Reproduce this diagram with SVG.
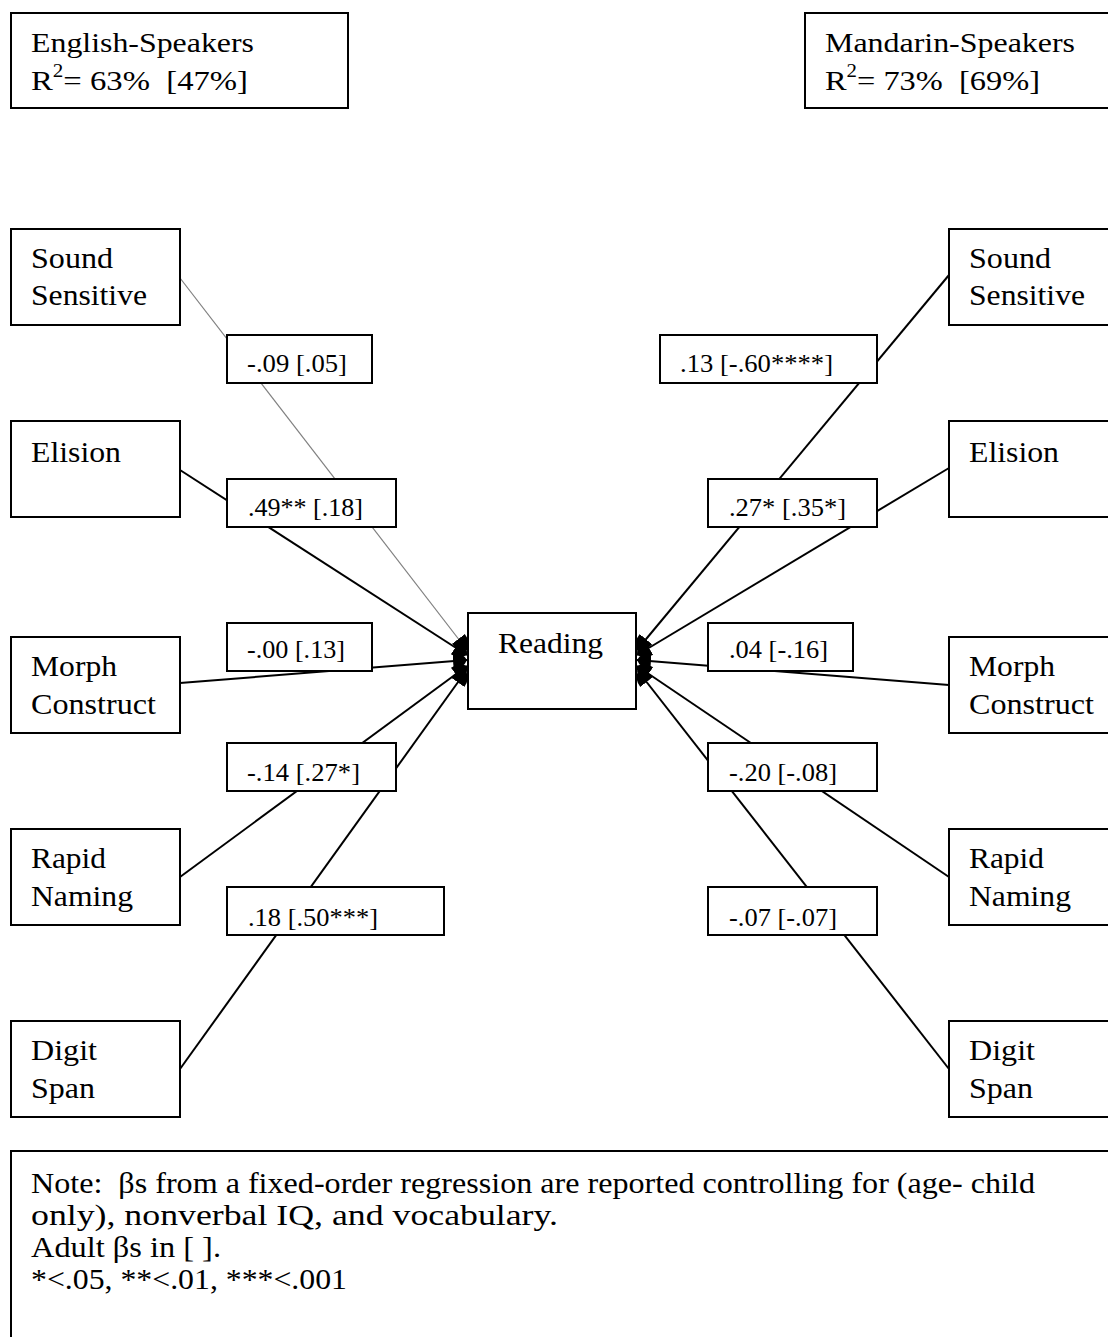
<svg xmlns="http://www.w3.org/2000/svg" width="1108" height="1337" viewBox="0 0 1108 1337">
<style>
.box{fill:#fff;stroke:#000;stroke-width:2}
.t{font-family:"Liberation Serif","Times New Roman",serif;font-size:28px;fill:#000}
.note{font-family:"Liberation Serif","Times New Roman",serif;font-size:30px;fill:#000}
.lt{font-family:"Liberation Serif","Times New Roman",serif;font-size:25px;fill:#000}
.nt{font-family:"Liberation Serif","Times New Roman",serif;font-size:29px;fill:#000}
.c{stroke:#000;stroke-width:2;fill:none}
.cg{stroke:#808080;stroke-width:1.2;fill:none}
</style>
<defs>
<marker id="ah" markerUnits="userSpaceOnUse" markerWidth="16" markerHeight="22" refX="14" refY="11" orient="auto">
<path d="M0,3 Q10,3 14,11 Q10,19 0,19 Z" fill="#000"/>
</marker>
</defs>
<rect width="1108" height="1337" fill="#fff"/>

<g id="connectors">
<line class="cg" x1="180" y1="278" x2="467" y2="650" marker-end="url(#ah)"/>
<line class="c" x1="180" y1="470" x2="467" y2="655" marker-end="url(#ah)"/>
<line class="c" x1="180" y1="683" x2="467" y2="660" marker-end="url(#ah)"/>
<line class="c" x1="180" y1="877" x2="467" y2="666" marker-end="url(#ah)"/>
<line class="c" x1="180" y1="1069" x2="466" y2="671" marker-end="url(#ah)"/>
<line class="c" x1="949" y1="275" x2="637" y2="650" marker-end="url(#ah)"/>
<line class="c" x1="949" y1="468" x2="637" y2="655" marker-end="url(#ah)"/>
<line class="c" x1="949" y1="685" x2="637" y2="660" marker-end="url(#ah)"/>
<line class="c" x1="949" y1="877" x2="637" y2="666" marker-end="url(#ah)"/>
<line class="c" x1="949" y1="1069" x2="638" y2="671" marker-end="url(#ah)"/>
</g>

<g id="title-english">
<rect class="box" x="11" y="13" width="337" height="95"/>
<text class="t" x="31" y="52" textLength="223" lengthAdjust="spacingAndGlyphs">English-Speakers</text>
<text class="t" x="31" y="90" xml:space="preserve" textLength="217" lengthAdjust="spacingAndGlyphs">R<tspan font-size="18" dy="-13">2</tspan><tspan dy="13">= 63%  [47%]</tspan></text>
</g>
<g id="title-mandarin">
<rect class="box" x="805" y="13" width="320" height="95"/>
<text class="t" x="825" y="52" textLength="250" lengthAdjust="spacingAndGlyphs">Mandarin-Speakers</text>
<text class="t" x="825" y="90" xml:space="preserve" textLength="215" lengthAdjust="spacingAndGlyphs">R<tspan font-size="18" dy="-13">2</tspan><tspan dy="13">= 73%  [69%]</tspan></text>
</g>

<g id="reading">
<rect class="box" x="468" y="613" width="168" height="96"/>
<text class="nt" x="498" y="653" textLength="105" lengthAdjust="spacingAndGlyphs">Reading</text>
</g>

<g id="en-sound">
<rect class="box" x="11" y="229" width="169" height="96"/>
<text class="nt" x="31" y="268" textLength="82" lengthAdjust="spacingAndGlyphs">Sound</text>
<text class="nt" x="31" y="305" textLength="116" lengthAdjust="spacingAndGlyphs">Sensitive</text>
</g>
<g id="en-elision">
<rect class="box" x="11" y="421" width="169" height="96"/>
<text class="nt" x="31" y="462" textLength="90" lengthAdjust="spacingAndGlyphs">Elision</text>
</g>
<g id="en-morph">
<rect class="box" x="11" y="637" width="169" height="96"/>
<text class="nt" x="31" y="676" textLength="86" lengthAdjust="spacingAndGlyphs">Morph</text>
<text class="nt" x="31" y="714" textLength="125" lengthAdjust="spacingAndGlyphs">Construct</text>
</g>
<g id="en-rapid">
<rect class="box" x="11" y="829" width="169" height="96"/>
<text class="nt" x="31" y="868" textLength="75" lengthAdjust="spacingAndGlyphs">Rapid</text>
<text class="nt" x="31" y="906" textLength="102" lengthAdjust="spacingAndGlyphs">Naming</text>
</g>
<g id="en-digit">
<rect class="box" x="11" y="1021" width="169" height="96"/>
<text class="nt" x="31" y="1060" textLength="66" lengthAdjust="spacingAndGlyphs">Digit</text>
<text class="nt" x="31" y="1098" textLength="64" lengthAdjust="spacingAndGlyphs">Span</text>
</g>

<g id="md-sound">
<rect class="box" x="949" y="229" width="180" height="96"/>
<text class="nt" x="969" y="268" textLength="82" lengthAdjust="spacingAndGlyphs">Sound</text>
<text class="nt" x="969" y="305" textLength="116" lengthAdjust="spacingAndGlyphs">Sensitive</text>
</g>
<g id="md-elision">
<rect class="box" x="949" y="421" width="180" height="96"/>
<text class="nt" x="969" y="462" textLength="90" lengthAdjust="spacingAndGlyphs">Elision</text>
</g>
<g id="md-morph">
<rect class="box" x="949" y="637" width="180" height="96"/>
<text class="nt" x="969" y="676" textLength="86" lengthAdjust="spacingAndGlyphs">Morph</text>
<text class="nt" x="969" y="714" textLength="125" lengthAdjust="spacingAndGlyphs">Construct</text>
</g>
<g id="md-rapid">
<rect class="box" x="949" y="829" width="180" height="96"/>
<text class="nt" x="969" y="868" textLength="75" lengthAdjust="spacingAndGlyphs">Rapid</text>
<text class="nt" x="969" y="906" textLength="102" lengthAdjust="spacingAndGlyphs">Naming</text>
</g>
<g id="md-digit">
<rect class="box" x="949" y="1021" width="180" height="96"/>
<text class="nt" x="969" y="1060" textLength="66" lengthAdjust="spacingAndGlyphs">Digit</text>
<text class="nt" x="969" y="1098" textLength="64" lengthAdjust="spacingAndGlyphs">Span</text>
</g>

<g id="label-en-sound">
<rect class="box" x="227" y="335" width="145" height="48"/>
<text class="lt" x="247" y="372" textLength="100" lengthAdjust="spacingAndGlyphs">-.09 [.05]</text>
</g>
<g id="label-en-elision">
<rect class="box" x="227" y="479" width="169" height="48"/>
<text class="lt" x="248" y="516" textLength="115" lengthAdjust="spacingAndGlyphs">.49** [.18]</text>
</g>
<g id="label-en-morph">
<rect class="box" x="227" y="623" width="145" height="48"/>
<text class="lt" x="247" y="658" textLength="98" lengthAdjust="spacingAndGlyphs">-.00 [.13]</text>
</g>
<g id="label-en-rapid">
<rect class="box" x="227" y="743" width="169" height="48"/>
<text class="lt" x="247" y="781" textLength="113" lengthAdjust="spacingAndGlyphs">-.14 [.27*]</text>
</g>
<g id="label-en-digit">
<rect class="box" x="227" y="887" width="217" height="48"/>
<text class="lt" x="248" y="926" textLength="130" lengthAdjust="spacingAndGlyphs">.18 [.50***]</text>
</g>

<g id="label-md-sound">
<rect class="box" x="660" y="335" width="217" height="48"/>
<text class="lt" x="680" y="372" textLength="153" lengthAdjust="spacingAndGlyphs">.13 [-.60****]</text>
</g>
<g id="label-md-elision">
<rect class="box" x="708" y="479" width="169" height="48"/>
<text class="lt" x="729" y="516" textLength="117" lengthAdjust="spacingAndGlyphs">.27* [.35*]</text>
</g>
<g id="label-md-morph">
<rect class="box" x="708" y="623" width="145" height="48"/>
<text class="lt" x="729" y="658" textLength="99" lengthAdjust="spacingAndGlyphs">.04 [-.16]</text>
</g>
<g id="label-md-rapid">
<rect class="box" x="708" y="743" width="169" height="48"/>
<text class="lt" x="729" y="781" textLength="108" lengthAdjust="spacingAndGlyphs">-.20 [-.08]</text>
</g>
<g id="label-md-digit">
<rect class="box" x="708" y="887" width="169" height="48"/>
<text class="lt" x="729" y="926" textLength="108" lengthAdjust="spacingAndGlyphs">-.07 [-.07]</text>
</g>

<g id="note">
<rect class="box" x="11" y="1151" width="1120" height="200"/>
<text class="note" x="31" y="1193" textLength="1004" lengthAdjust="spacingAndGlyphs" xml:space="preserve">Note:  βs from a fixed-order regression are reported controlling for (age- child</text>
<text class="note" x="31" y="1225" textLength="527" lengthAdjust="spacingAndGlyphs">only), nonverbal IQ, and vocabulary.</text>
<text class="note" x="31" y="1257" textLength="190" lengthAdjust="spacingAndGlyphs">Adult βs in [ ].</text>
<text class="note" x="31" y="1289" textLength="316" lengthAdjust="spacingAndGlyphs">*&lt;.05, **&lt;.01, ***&lt;.001</text>
</g>
</svg>
